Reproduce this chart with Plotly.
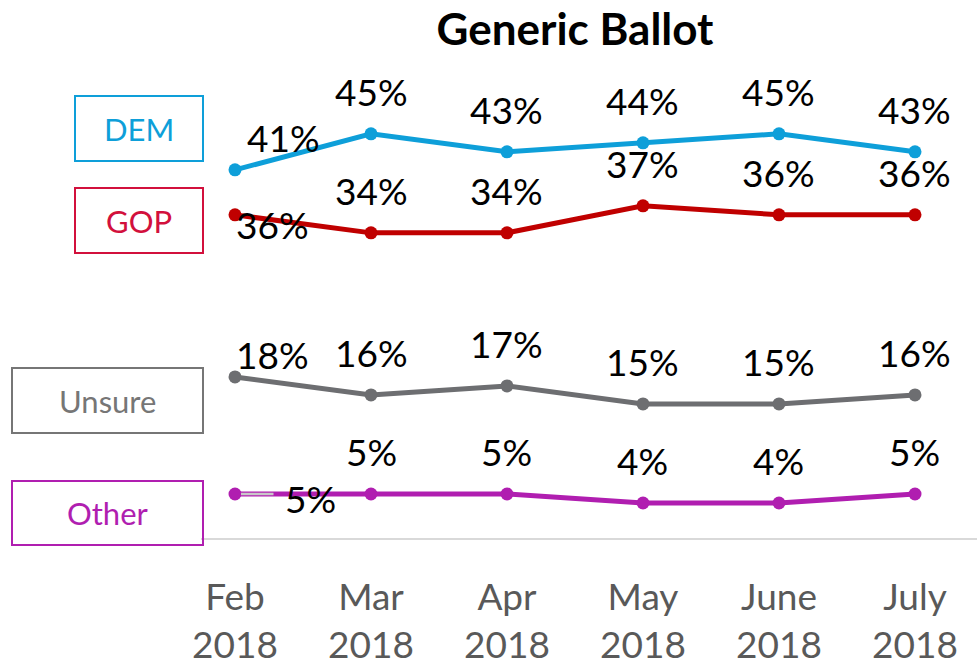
import plotly.graph_objects as go

# ---------------------------------------------------------------------------
# Data
# ---------------------------------------------------------------------------
months = ["Feb<br>2018", "Mar<br>2018", "Apr<br>2018", "May<br>2018", "June<br>2018", "July<br>2018"]
dem = [41, 45, 43, 44, 45, 43]
gop = [36, 34, 34, 37, 36, 36]
unsure = [18, 16, 17, 15, 15, 16]
other = [5, 5, 5, 4, 4, 5]

FONT = "Lato, 'Open Sans', sans-serif"

series = [
    # name, values, line colour, box colour, box (x0, y0, x1, y1) in px, first-label offset
    ("DEM", dem, "#0e9fd9", "#0e9fd9", (75, 96, 203, 161), (48, 32)),
    ("GOP", gop, "#c00000", "#d2103c", (75, 188, 203, 253), (37, -10)),
    ("Unsure", unsure, "#6d6e71", "#767676", (12, 368, 203, 433), (37, 22)),
    ("Other", other, "#b01eb0", "#b01eb0", (12, 481, 203, 545), (75, -5)),
]

W, H = 977, 665
L, R, T, B = 201, 0, 60, 126
PW, PH = W - L - R, H - T - B


def px_x(x):
    return (x - L) / PW


def px_y(y):
    return (H - B - y) / PH


fig = go.Figure()

for name, vals, color, box_color, box, first_off in series:
    fig.add_trace(go.Scatter(
        x=months, y=vals, name=name, mode="lines+markers",
        line=dict(color=color, width=5),
        marker=dict(color=color, size=13),
        cliponaxis=False, showlegend=False,
    ))
    # data labels
    for i, (m, v) in enumerate(zip(months, vals)):
        xs, ys = first_off if i == 0 else (0, 42)
        if name == "Other" and i == 0:
            # Excel leader line from point toward the label
            fig.add_annotation(
                x=m, y=v, text="", showarrow=True, arrowhead=0,
                arrowwidth=2.5, arrowcolor="#c9c9c9", ax=40, ay=0,
                standoff=6,
            )
        fig.add_annotation(
            x=m, y=v, text=f"{v}%", xshift=xs, yshift=ys,
            showarrow=False, font=dict(family=FONT, size=37, color="#000000"),
        )
    # legend box
    x0, y0, x1, y1 = box
    fig.add_shape(
        type="rect", xref="paper", yref="paper",
        x0=px_x(x0), x1=px_x(x1), y0=px_y(y1), y1=px_y(y0),
        line=dict(color=box_color, width=2), fillcolor="rgba(0,0,0,0)",
    )
    fig.add_annotation(
        xref="paper", yref="paper", x=px_x((x0 + x1) / 2), y=px_y((y0 + y1) / 2),
        xanchor="center", yanchor="middle",
        text=name, showarrow=False,
        font=dict(family=FONT, size=31, color=box_color),
    )

fig.update_layout(
    width=W, height=H,
    margin=dict(l=L, r=R, t=T, b=B, autoexpand=False),
    paper_bgcolor="white", plot_bgcolor="white",
    title=dict(
        text="<b>Generic Ballot</b>", x=575 / W, xanchor="center",
        y=1 - 30 / H, yanchor="middle",
        font=dict(family=FONT, size=44, color="#000000"),
    ),
)
fig.update_xaxes(
    range=[-0.25, 5.456], showgrid=False, zeroline=False,
    showline=False, ticks="", automargin=False, ticklabelstandoff=33,
    tickfont=dict(family=FONT, size=37, color="#595959"),
)
fig.update_yaxes(
    range=[0, 53.2], showgrid=False, zeroline=True, zerolinecolor="#d9d9d9",
    zerolinewidth=2, showticklabels=False, showline=False, ticks="",
    automargin=False,
)

# drop the default page margin so the figure sits at the window's corner
fig.write_html(
    "out.html",
    config={"displayModeBar": False},
    post_script="document.body.style.margin='0';",
)
